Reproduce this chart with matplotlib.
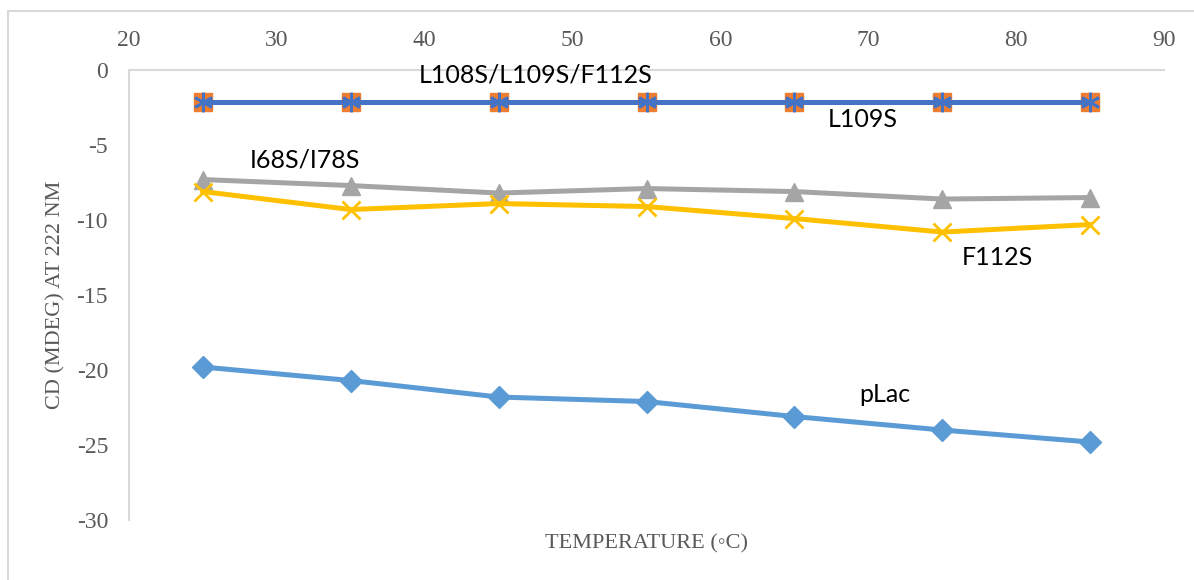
"""CD signal at 222 nm versus temperature for pLac and its mutants."""

import matplotlib

matplotlib.use("Agg")
import matplotlib.pyplot as plt
from matplotlib.patches import Rectangle

plt.rcParams["axes.unicode_minus"] = False

# Data
temperature = [25, 35, 45, 55, 65, 75, 85]
triple_mut = [-2.1, -2.1, -2.1, -2.1, -2.1, -2.1, -2.1]
l109s = [-2.1, -2.1, -2.1, -2.1, -2.1, -2.1, -2.1]
i68s_i78s = [-7.3, -7.7, -8.2, -7.9, -8.1, -8.6, -8.5]
f112s = [-8.1, -9.3, -8.9, -9.1, -9.9, -10.8, -10.3]
plac = [-19.8, -20.7, -21.8, -22.1, -23.1, -24.0, -24.8]

x_ticks = [20, 30, 40, 50, 60, 70, 80, 90]
y_ticks = [0, -5, -10, -15, -20, -25, -30]

grid_grey = "#D9D9D9"
tick_grey = "#595959"
serif = ["Liberation Serif", "DejaVu Serif"]
label_font = ["Lato", "DejaVu Sans"]

fig = plt.figure(figsize=(11.94, 5.80), dpi=100)
ax = fig.add_axes([0.108, 0.1034, 0.867, 0.7758])

# Outer chart border (partly cut off, as in the reference)
fig.patches.append(
    Rectangle((0.0067, -0.05), 1.1, 1.031, transform=fig.transFigure,
              fill=False, edgecolor=grid_grey, linewidth=1.5, zorder=0)
)

ax.plot(temperature, triple_mut, color="#ED7D31", linewidth=3.6, marker="s",
        markersize=13, markerfacecolor="#ED7D31", markeredgecolor="#ED7D31")
ax.plot(temperature, l109s, color="#4472C4", linewidth=3.6, marker=(6, 2, 0),
        markersize=14, markeredgecolor="#4472C4", markeredgewidth=2)
ax.plot(temperature, i68s_i78s, color="#A5A5A5", linewidth=3.6, marker="^",
        markersize=13, markerfacecolor="#A5A5A5", markeredgecolor="#A5A5A5")
ax.plot(temperature, f112s, color="#FFC000", linewidth=3.6, marker="x",
        markersize=13, markeredgecolor="#FFC000", markeredgewidth=2)
ax.plot(temperature, plac, color="#5B9BD5", linewidth=3.6, marker="D",
        markersize=11, markerfacecolor="#5B9BD5", markeredgecolor="#5B9BD5")

# Series labels
labels = [
    ("L108S/L109S/F112S", 47.5, -0.35),
    ("L109S", 69.6, -3.3),
    ("I68S/I78S", 31.9, -6.0),
    ("F112S", 78.7, -12.5),
    ("pLac", 71.1, -21.6),
]
for text, x, y in labels:
    ax.text(x, y, text, ha="center", va="center", fontsize=18,
            family=label_font, color="black")

ax.set_xlim(20, 90)
ax.set_ylim(-30, 0)
ax.set_xticks(x_ticks)
ax.set_yticks(y_ticks)
ax.xaxis.tick_top()
ax.tick_params(axis="both", length=0, colors=tick_grey, labelsize=17)
ax.tick_params(axis="x", pad=14)
ax.tick_params(axis="y", pad=15)
for lab in ax.get_xticklabels() + ax.get_yticklabels():
    lab.set_family(serif)

for side in ("right", "bottom"):
    ax.spines[side].set_visible(False)
for side in ("left", "top"):
    ax.spines[side].set_color(grid_grey)
    ax.spines[side].set_linewidth(1.5)

ax.set_xlabel("TEMPERATURE (\u25e6C)", fontsize=16, color=tick_grey,
              family=serif, labelpad=10)
ax.set_ylabel("CD (MDEG) AT 222 NM", fontsize=16, color=tick_grey,
              family=serif, labelpad=8)

fig.savefig("out.png", dpi=100)
